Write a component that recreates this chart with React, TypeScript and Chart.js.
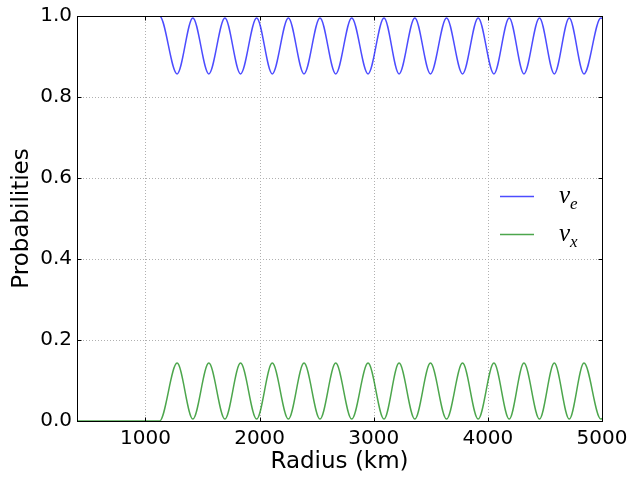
import React, { useEffect, useRef } from 'react';
import { Chart, registerables } from 'chart.js';

Chart.register(...registerables);

const xTicks = [1000, 2000, 3000, 4000, 5000];
const yTicks = [0, 0.2, 0.4, 0.6, 0.8, 1.0];

// radius (km) at start, onset, and every extremum of the oscillation
const radius = [
  400, 1123, 1277, 1415, 1555, 1696, 1833, 1974, 2111, 2252, 2389, 2529, 2667, 2807,
  2950, 3090, 3222, 3360, 3497, 3638, 3778, 3915, 4053, 4187, 4316, 4452, 4582, 4713,
  4842, 4990, 5000,
];

const nuE = [
  1.0, 1.0, 0.857, 0.995, 0.857, 0.995, 0.857, 0.995, 0.857, 0.995, 0.857, 0.995, 0.857, 0.995,
  0.857, 0.995, 0.857, 0.995, 0.857, 0.995, 0.857, 0.995, 0.857, 0.995, 0.857, 0.995, 0.857, 0.995,
  0.857, 0.995, 0.994,
];

const nuX = [
  0.0, 0.0, 0.143, 0.005, 0.143, 0.005, 0.143, 0.005, 0.143, 0.005, 0.143, 0.005, 0.143, 0.005,
  0.143, 0.005, 0.143, 0.005, 0.143, 0.005, 0.143, 0.005, 0.143, 0.005, 0.143, 0.005, 0.143, 0.005,
  0.143, 0.005, 0.006,
];

const seriesLabels = ['e', 'x'];
const seriesColors = ['rgba(0,0,255,0.7)', 'rgba(0,128,0,0.7)'];

const framePlugin = {
  id: 'frame',
  beforeDatasetsDraw(chart: any) {
    const { ctx, chartArea: a, scales } = chart;
    ctx.save();
    ctx.strokeStyle = '#b0b0b0';
    ctx.lineWidth = 1;
    ctx.setLineDash([1, 2]);
    xTicks.forEach((v) => {
      const px = Math.round(scales.x.getPixelForValue(v)) + 0.5;
      ctx.beginPath();
      ctx.moveTo(px, a.top);
      ctx.lineTo(px, a.bottom);
      ctx.stroke();
    });
    yTicks.forEach((v) => {
      const py = Math.round(scales.y.getPixelForValue(v)) + 0.5;
      ctx.beginPath();
      ctx.moveTo(a.left, py);
      ctx.lineTo(a.right, py);
      ctx.stroke();
    });
    ctx.restore();
  },
  afterDatasetsDraw(chart: any) {
    const { ctx, chartArea: a, scales } = chart;
    ctx.save();
    ctx.strokeStyle = '#000';
    ctx.lineWidth = 1;
    ctx.setLineDash([]);
    const L = Math.round(a.left) + 0.5;
    const R = Math.round(a.right) + 0.5;
    const T = Math.round(a.top) + 0.5;
    const B = Math.round(a.bottom) + 0.5;
    ctx.strokeRect(L, T, R - L, B - T);
    const tl = 4;
    xTicks.forEach((v) => {
      const px = Math.round(scales.x.getPixelForValue(v)) + 0.5;
      ctx.beginPath();
      ctx.moveTo(px, B);
      ctx.lineTo(px, B - tl);
      ctx.moveTo(px, T);
      ctx.lineTo(px, T + tl);
      ctx.stroke();
    });
    yTicks.forEach((v) => {
      const py = Math.round(scales.y.getPixelForValue(v)) + 0.5;
      ctx.beginPath();
      ctx.moveTo(L, py);
      ctx.lineTo(L + tl, py);
      ctx.moveTo(R, py);
      ctx.lineTo(R - tl, py);
      ctx.stroke();
    });
    ctx.restore();
  },
  afterDraw(chart: any) {
    const { ctx } = chart;
    ctx.save();
    const rows = [196.5, 234.5];
    rows.forEach((y, i) => {
      ctx.strokeStyle = seriesColors[i];
      ctx.lineWidth = 1.5;
      ctx.beginPath();
      ctx.moveTo(500, y);
      ctx.lineTo(534, y);
      ctx.stroke();
      ctx.fillStyle = '#000';
      ctx.textBaseline = 'alphabetic';
      ctx.textAlign = 'left';
      ctx.font = 'italic 25px "Liberation Serif"';
      ctx.fillText('ν', 559, y + 6);
      const w = ctx.measureText('ν').width;
      ctx.font = 'italic 17px "Liberation Serif"';
      ctx.fillText(seriesLabels[i], 559 + w, y + 12);
    });
    ctx.restore();
  },
};

export default function App() {
  const ref = useRef<HTMLCanvasElement | null>(null);
  useEffect(() => {
    document.body.style.margin = '0';
    const canvas = ref.current;
    if (!canvas) return;
    const chart = new Chart(canvas, {
      type: 'line',
      data: {
        datasets: [
          {
            label: 'νe',
            data: radius.map((r, i) => ({ x: r, y: nuE[i] })),
            borderColor: seriesColors[0],
            borderWidth: 1.5,
            pointRadius: 0,
            cubicInterpolationMode: 'monotone',
            fill: false,
          },
          {
            label: 'νx',
            data: radius.map((r, i) => ({ x: r, y: nuX[i] })),
            borderColor: seriesColors[1],
            borderWidth: 1.5,
            pointRadius: 0,
            cubicInterpolationMode: 'monotone',
            fill: false,
          },
        ],
      },
      options: {
        responsive: false,
        animation: false,
        events: [],
        layout: { padding: { top: 16, right: 27, left: 0, bottom: 0 } },
        plugins: { legend: { display: false }, tooltip: { enabled: false } },
        scales: {
          x: {
            type: 'linear',
            min: 400,
            max: 5000,
            afterBuildTicks: (s: any) => {
              s.ticks = xTicks.map((v) => ({ value: v }));
            },
            afterFit: (s: any) => {
              s.height = 58;
              s.paddingLeft = 0;
              s.paddingRight = 0;
            },
            grid: { display: false, drawTicks: false },
            border: { display: false },
            ticks: {
              autoSkip: false,
              maxRotation: 0,
              padding: 6,
              color: '#000',
              font: { family: 'DejaVu Sans', size: 20 },
              callback: (v: any) => String(v),
            },
            title: {
              display: true,
              text: 'Radius (km)',
              color: '#000',
              font: { family: 'DejaVu Sans', size: 23 },
              padding: { top: 0, bottom: 3 },
            },
          },
          y: {
            type: 'linear',
            min: 0,
            max: 1,
            afterBuildTicks: (s: any) => {
              s.ticks = yTicks.map((v) => ({ value: v }));
            },
            afterFit: (s: any) => {
              s.width = 77;
              s.paddingTop = 0;
              s.paddingBottom = 0;
            },
            grid: { display: false, drawTicks: false },
            border: { display: false },
            ticks: {
              padding: 5,
              color: '#000',
              font: { family: 'DejaVu Sans', size: 20 },
              callback: (v: any) => Number(v).toFixed(1),
            },
            title: {
              display: true,
              text: 'Probabilities',
              color: '#000',
              font: { family: 'DejaVu Sans', size: 23 },
              padding: { top: 8, bottom: 0 },
            },
          },
        },
      },
      plugins: [framePlugin],
    });
    return () => chart.destroy();
  }, []);
  return (
    <div style={{ width: 629, height: 479 }}>
      <canvas ref={ref} width={629} height={479} style={{ display: 'block' }} />
    </div>
  );
}
